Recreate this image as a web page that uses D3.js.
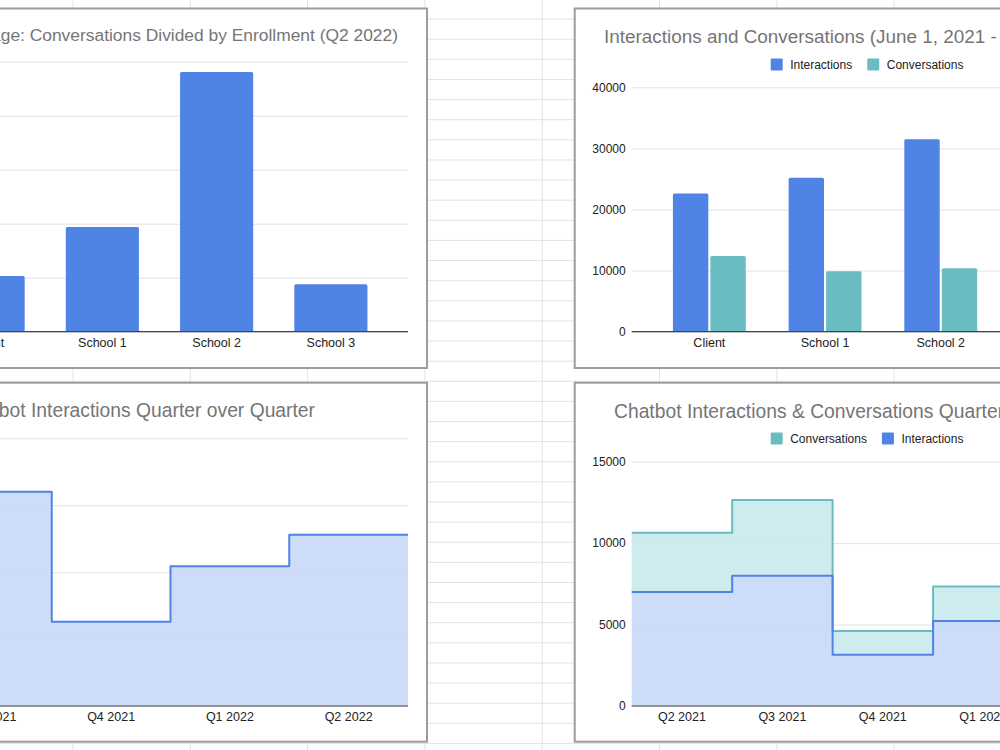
<!DOCTYPE html>
<html>
<head>
<meta charset="utf-8">
<script src="https://cdn.jsdelivr.net/npm/d3@7"></script>
<style>
  html, body { margin: 0; padding: 0; background: #fff; }
  svg { display: block; font-family: "Liberation Sans", Arial, sans-serif; }
</style>
</head>
<body>
<script>
// Chart data
const schools = ["Client", "School 1", "School 2", "School 3"];
const usageRatio = [1.03, 1.94, 4.81, 0.88];
const usageTicks = [0, 1, 2, 3, 4, 5];

const schoolInteractions = [22600, 25200, 31500, 18500];
const schoolConversations = [12400, 9900, 10400, 8800];
const schoolTicks = [0, 10000, 20000, 30000, 40000];

const qoqQuarters = ["Q3 2021", "Q4 2021", "Q1 2022", "Q2 2022"];
const qoqInteractions = [8000, 3150, 5220, 6400];
const qoqTicks = [0, 2500, 5000, 7500, 10000];

const quarters = ["Q2 2021", "Q3 2021", "Q4 2021", "Q1 2022", "Q2 2022"];
const quarterInteractions = [7000, 8000, 3150, 5220, 6400];
const quarterConversations = [3630, 4650, 1450, 2120, 2500];
const quarterTicks = [0, 5000, 10000, 15000];

const blue = "#5083e6", teal = "#69bcc1";
const blueFill = "#c8d8f7", tealFill = "#c9e9eb";
const titleColor = "#757575", labelColor = "#222", gridColor = "#e3e3e3";

const width = 1000, height = 750;

const svg = d3.select("body").append("svg")
    .attr("width", width)
    .attr("height", height);

// spreadsheet cell grid behind the charts
const grid = svg.append("g");
grid.selectAll(".col")
    .data(d3.range(0, 9))
    .join("line")
    .attr("x1", d => 73 + d * 117.3).attr("x2", d => 73 + d * 117.3)
    .attr("y1", 0).attr("y2", height)
    .attr("stroke", "#e2e2e2");
grid.selectAll(".row")
    .data(d3.range(1, 38))
    .join("line")
    .attr("x1", 0).attr("x2", width)
    .attr("y1", d => -1 + d * 20.12).attr("y2", d => -1 + d * 20.12)
    .attr("stroke", "#e2e2e2");

function panel(id, x, y, w, h) {
    svg.append("defs").append("clipPath").attr("id", id)
        .append("rect").attr("x", x).attr("y", y).attr("width", w).attr("height", h);
    const g = svg.append("g").attr("clip-path", `url(#${id})`);
    g.append("rect")
        .attr("x", x).attr("y", y).attr("width", w).attr("height", h)
        .attr("fill", "#fff");
    svg.append("rect")
        .attr("x", x).attr("y", y).attr("width", w).attr("height", h)
        .attr("fill", "none")
        .attr("stroke", "#9c9c9c")
        .attr("stroke-width", 2);
    return g;
}

function title(g, text, x, y, anchor, size) {
    g.append("text")
        .attr("x", x).attr("y", y)
        .attr("text-anchor", anchor)
        .attr("font-size", size)
        .attr("fill", titleColor)
        .text(text);
}

function yAxis(g, y, ticks, x0, x1, fmt) {
    g.append("g")
        .attr("transform", `translate(${x0},0)`)
        .call(d3.axisLeft(y).tickValues(ticks).tickSize(-(x1 - x0)).tickPadding(6).tickFormat(fmt))
        .call(a => a.select(".domain").remove())
        .call(a => a.selectAll(".tick line").attr("stroke", gridColor))
        .call(a => a.selectAll(".tick text").attr("fill", labelColor).attr("font-size", 12)
            .attr("font-family", "Liberation Sans, Arial, sans-serif"));
}

function baseline(g, x0, x1, y0) {
    g.append("line")
        .attr("x1", x0).attr("x2", x1).attr("y1", y0).attr("y2", y0)
        .attr("stroke", "#444").attr("stroke-width", 1.2);
}

function xLabels(g, cats, pos, yText) {
    g.selectAll(null)
        .data(cats)
        .join("text")
        .attr("x", d => pos(d))
        .attr("y", yText)
        .attr("text-anchor", "middle")
        .attr("font-size", 12.5)
        .attr("fill", labelColor)
        .text(d => d);
}

function legend(g, items, x, y) {
    let cx = x;
    items.forEach(it => {
        g.append("rect").attr("x", cx).attr("y", y - 10.5).attr("width", 12).attr("height", 12)
            .attr("rx", 1).attr("fill", it.color);
        const t = g.append("text").attr("x", cx + 19.5).attr("y", y)
            .attr("font-size", 12).attr("fill", labelColor).text(it.label);
        cx += 19.5 + t.node().getComputedTextLength() + 15;
    });
}

// ---------- top left: usage bars ----------
{
    const g = panel("clipTL", -149, 8.5, 576, 359.5);
    title(g, "Chatbot Usage: Conversations Divided by Enrollment (Q2 2022)", 398, 40.5, "end", 17.4);
    const y = d3.scaleLinear().domain([0, 5]).range([331.7, 61.7]);
    const x = d3.scaleBand().domain(schools).range([-69, 388]).paddingInner(0.36).paddingOuter(0.18);
    yAxis(g, y, usageTicks, -89, 408, d3.format("d"));
    g.selectAll(".bar")
        .data(schools.map((s, i) => ({s, v: usageRatio[i]})))
        .join("rect")
        .attr("x", d => x(d.s))
        .attr("width", x.bandwidth())
        .attr("y", d => y(d.v))
        .attr("height", d => y(0) - y(d.v))
        .attr("rx", 1.5)
        .attr("fill", blue);
    baseline(g, -89, 408, y(0));
    xLabels(g, schools, d => x(d) + x.bandwidth() / 2, 347);
}

// ---------- top right: interactions vs conversations ----------
{
    const g = panel("clipTR", 574.7, 8.5, 576, 359.5);
    title(g, "Interactions and Conversations (June 1, 2021 - June 30, 2022)", 604, 42.5, "start", 18.9);
    legend(g, [{label: "Interactions", color: blue}, {label: "Conversations", color: teal}], 770.7, 69);
    const y = d3.scaleLinear().domain([0, 40000]).range([331.7, 87.3]);
    const x0 = d3.scaleBand().domain(schools).range([651.5, 1114.3]).paddingInner(0.37).paddingOuter(0.185);
    const keys = ["Interactions", "Conversations"];
    const x1 = d3.scaleBand().domain(keys).range([0, x0.bandwidth()]).paddingInner(0.055);
    yAxis(g, y, schoolTicks, 631.7, 1134, d3.format("d"));
    const rows = schools.map((s, i) => ({s, Interactions: schoolInteractions[i], Conversations: schoolConversations[i]}));
    g.selectAll(".grp")
        .data(rows)
        .join("g")
        .attr("transform", d => `translate(${x0(d.s)},0)`)
        .selectAll("rect")
        .data(d => keys.map(k => ({k, v: d[k]})))
        .join("rect")
        .attr("x", d => x1(d.k))
        .attr("width", x1.bandwidth())
        .attr("y", d => y(d.v))
        .attr("height", d => y(0) - y(d.v))
        .attr("rx", 1.5)
        .attr("fill", d => d.k === "Interactions" ? blue : teal);
    baseline(g, 631.7, 1134, y(0));
    xLabels(g, schools, d => x0(d) + x0.bandwidth() / 2, 347);
}

// step helper: one flat segment across each quarter's band
function stepPoints(x, cats, vals) {
    const pts = cats.map((c, i) => [x(c), vals[i]]);
    pts.push([x(cats[cats.length - 1]) + x.bandwidth(), vals[vals.length - 1]]);
    return pts;
}

// ---------- bottom left: interactions quarter over quarter ----------
{
    const g = panel("clipBL", -149, 382.7, 576, 359);
    title(g, "Chatbot Interactions Quarter over Quarter", 315, 416.5, "end", 19.3);
    const y = d3.scaleLinear().domain([0, 10000]).range([706, 438.3]);
    const x = d3.scaleBand().domain(qoqQuarters).range([-67, 408]);
    yAxis(g, y, qoqTicks, -67, 408, d3.format("d"));
    const pts = stepPoints(x, qoqQuarters, qoqInteractions);
    g.append("path")
        .datum(pts)
        .attr("fill", blueFill).attr("fill-opacity", 0.9)
        .attr("d", d3.area().curve(d3.curveStepAfter).x(d => d[0]).y0(y(0)).y1(d => y(d[1])));
    g.append("path")
        .datum(pts)
        .attr("fill", "none").attr("stroke", blue).attr("stroke-width", 2)
        .attr("stroke-linejoin", "round")
        .attr("d", d3.line().curve(d3.curveStepAfter).x(d => d[0]).y(d => y(d[1])));
    baseline(g, -67, 408, y(0));
    xLabels(g, qoqQuarters, d => x(d) + x.bandwidth() / 2, 721);
}

// ---------- bottom right: stacked interactions & conversations ----------
{
    const g = panel("clipBR", 574.7, 382.7, 576, 359);
    title(g, "Chatbot Interactions & Conversations Quarter over Quarter", 614, 417.5, "start", 19.3);
    legend(g, [{label: "Conversations", color: teal}, {label: "Interactions", color: blue}], 770.7, 443);
    const y = d3.scaleLinear().domain([0, 15000]).range([706, 461.7]);
    const x = d3.scaleBand().domain(quarters).range([631.7, 1134]);
    yAxis(g, y, quarterTicks, 631.7, 1134, d3.format("d"));
    const rows = quarters.map((q, i) => ({q, Interactions: quarterInteractions[i], Conversations: quarterConversations[i]}));
    const stacked = d3.stack().keys(["Interactions", "Conversations"])(rows);
    const fills = {Interactions: blueFill, Conversations: tealFill};
    const strokes = {Interactions: blue, Conversations: teal};
    stacked.forEach(layer => {
        const pts = layer.map((d, i) => [x(quarters[i]), d[0], d[1]]);
        const last = layer[layer.length - 1];
        pts.push([x(quarters[quarters.length - 1]) + x.bandwidth(), last[0], last[1]]);
        g.append("path")
            .datum(pts)
            .attr("fill", fills[layer.key]).attr("fill-opacity", 0.9)
            .attr("d", d3.area().curve(d3.curveStepAfter).x(d => d[0]).y0(d => y(d[1])).y1(d => y(d[2])));
        layer.pts = pts;
    });
    // lines drawn after fills, conversations first so interactions sit on top
    [stacked[1], stacked[0]].forEach(layer => {
        g.append("path")
            .datum(layer.pts)
            .attr("fill", "none").attr("stroke", strokes[layer.key]).attr("stroke-width", 2)
            .attr("stroke-linejoin", "round")
            .attr("d", d3.line().curve(d3.curveStepAfter).x(d => d[0]).y(d => y(d[2])));
    });
    baseline(g, 631.7, 1134, y(0));
    xLabels(g, quarters, d => x(d) + x.bandwidth() / 2, 721);
}
</script>
</body>
</html>
